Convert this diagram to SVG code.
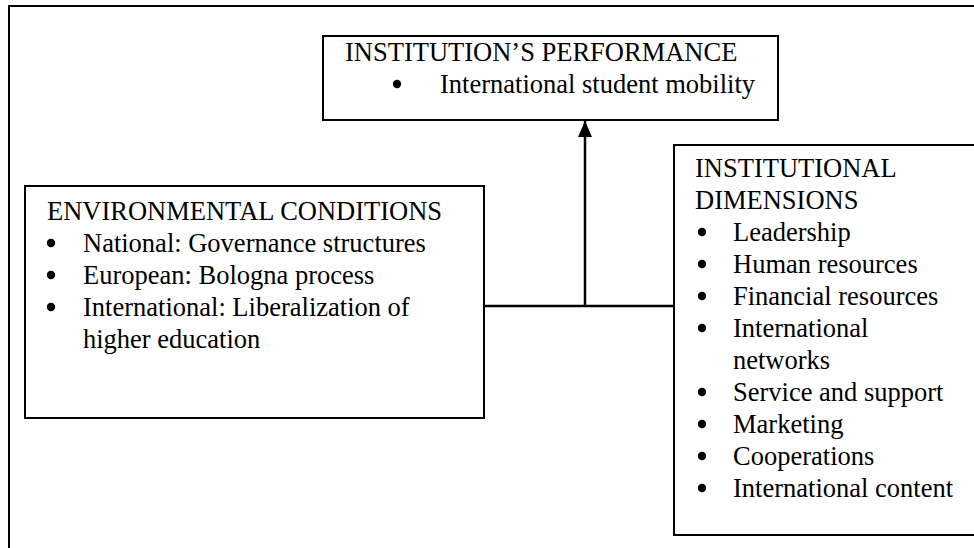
<svg xmlns="http://www.w3.org/2000/svg" width="974" height="548" viewBox="0 0 974 548">
  <defs>
    <style>
      .frame { fill: none; stroke: #000; stroke-width: 2; }
      .box { fill: #fff; stroke: #000; stroke-width: 2; }
      .wire { fill: none; stroke: #000; stroke-width: 2.5; }
      .label { font-family: 'Liberation Serif', 'Times New Roman', Times, serif; font-size: 26.5px; fill: #000; }
    </style>
    <!-- list bullet, placed at the x-height middle of each item -->
    <circle id="bullet" r="4.2" fill="#000"/>
    <marker id="arrowhead" viewBox="0 0 16 14" refX="16" refY="7" markerWidth="16" markerHeight="14" markerUnits="userSpaceOnUse" orient="auto">
      <path d="M0,0 L16,7 L0,14 Z" fill="#000"/>
    </marker>
  </defs>

  <!-- surrounding frame (open towards the lower and right edges) -->
  <rect class="frame" x="9" y="6" width="980" height="560"/>

  <!-- connectors -->
  <g id="connectors">
    <line class="wire" x1="484" y1="306" x2="674" y2="306"/>
    <line class="wire" x1="585" y1="306" x2="585" y2="121" marker-end="url(#arrowhead)"/>
  </g>

  <g id="performance" class="label">
    <rect class="box" x="323" y="36" width="455" height="84"/>
    <text x="345" y="61">INSTITUTION’S PERFORMANCE</text>
    <use href="#bullet" x="397" y="84"/>
    <text x="440" y="93">International student mobility</text>
  </g>

  <g id="environment" class="label">
    <rect class="box" x="25" y="186" width="459" height="232"/>
    <text x="47" y="220">ENVIRONMENTAL CONDITIONS</text>
    <use href="#bullet" x="51" y="243"/>
    <text x="83" y="252">National: Governance structures</text>
    <use href="#bullet" x="51" y="275"/>
    <text x="83" y="284">European: Bologna process</text>
    <use href="#bullet" x="51" y="307"/>
    <text x="83" y="316">International: Liberalization of</text>
    <text x="83" y="348">higher education</text>
  </g>

  <g id="dimensions" class="label">
    <rect class="box" x="674" y="145" width="310" height="390"/>
    <text x="695" y="177">INSTITUTIONAL</text>
    <text x="695" y="209">DIMENSIONS</text>
    <use href="#bullet" x="702" y="232"/>
    <text x="733" y="241">Leadership</text>
    <use href="#bullet" x="702" y="264"/>
    <text x="733" y="273">Human resources</text>
    <use href="#bullet" x="702" y="296"/>
    <text x="733" y="305">Financial resources</text>
    <use href="#bullet" x="702" y="328"/>
    <text x="733" y="337">International</text>
    <text x="733" y="369">networks</text>
    <use href="#bullet" x="702" y="392"/>
    <text x="733" y="401">Service and support</text>
    <use href="#bullet" x="702" y="424"/>
    <text x="733" y="433">Marketing</text>
    <use href="#bullet" x="702" y="456"/>
    <text x="733" y="465">Cooperations</text>
    <use href="#bullet" x="702" y="488"/>
    <text x="733" y="497">International content</text>
  </g>
</svg>
